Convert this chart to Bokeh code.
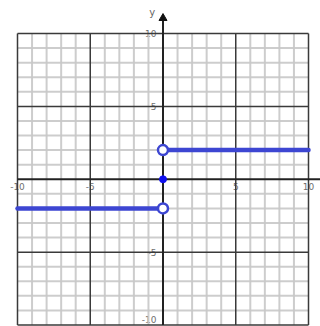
from bokeh.plotting import figure
from bokeh.embed import file_html
from bokeh.resources import INLINE
from bokeh.core.properties import value

# grid values
grid_minor = [-9, -8, -7, -6, -4, -3, -2, -1, 1, 2, 3, 4, 6, 7, 8, 9]
grid_major = [-10, -5, 5, 10]
x_tick_vals = [-10, -5, 5, 10]
x_tick_labels = ["-10", "-5", "5", "10"]
y_tick_vals = [10, 5, -5, -10]
y_tick_labels = ["10", "5", "-5", "-10"]

# step function: y = 2 (x>0), y = -2 (x<0), y = 0 at x = 0
right_x = [0, 10]
right_y = [2, 2]
left_x = [-10, 0]
left_y = [-2, -2]
open_x = [0, 0]
open_y = [2, -2]
closed_x = [0]
closed_y = [0]

LIM = 10
W, H = 320, 326
# pixel mapping
PX0, PX1 = 17.0, 308.0     # x = -10, x = 10
PY0, PY1 = 33.0, 324.5     # y = 10, y = -10
sx = (PX1 - PX0) / 20.0
sy = (PY1 - PY0) / 20.0
xr = (-10 - PX0 / sx, -10 + (W - PX0) / sx)
yr = (10 - (H - PY0) / sy, 10 + PY0 / sy)

p = figure(width=W, height=H, x_range=xr, y_range=yr,
           output_backend="svg", toolbar_location=None, min_border=0)
p.axis.visible = False
p.grid.visible = False
p.outline_line_color = None
p.background_fill_color = "white"

# tick labels (under grid)
p.text(x=x_tick_vals, y=[-0.5] * len(x_tick_vals), text=x_tick_labels,
       text_align="center", text_baseline="middle", text_font=value("DejaVu Sans"),
       text_font_size="9px", text_color="#707070")
p.text(x=[-0.45] * len(y_tick_vals), y=[10, 5, -5, -9.6], text=y_tick_labels,
       text_align="right", text_baseline="middle", text_font=value("DejaVu Sans"),
       text_font_size="9px", text_color="#707070")
p.text(x=[-0.75], y=[11.45], text=["y"], text_align="center", text_baseline="middle",
       text_font=value("DejaVu Sans"), text_font_size="10px", text_color="#666666")

# minor grid
p.segment(x0=grid_minor, y0=[-LIM] * len(grid_minor), x1=grid_minor, y1=[LIM] * len(grid_minor),
          line_color="#c8c8c8", line_width=2, line_alpha=0.9)
p.segment(x0=[-LIM] * len(grid_minor), y0=grid_minor, x1=[LIM] * len(grid_minor), y1=grid_minor,
          line_color="#c8c8c8", line_width=2, line_alpha=0.9)
# major grid
p.segment(x0=grid_major, y0=[-LIM] * len(grid_major), x1=grid_major, y1=[LIM] * len(grid_major),
          line_color="#3a3a3a", line_width=1.5)
p.segment(x0=[-LIM] * len(grid_major), y0=grid_major, x1=[LIM] * len(grid_major), y1=grid_major,
          line_color="#3a3a3a", line_width=1.5)
# axes
p.segment(x0=[-LIM], y0=[0], x1=[10.9], y1=[0], line_color="#222222", line_width=2)
p.segment(x0=[0], y0=[-LIM], x1=[0], y1=[11.0], line_color="#222222", line_width=2)
p.scatter(x=[0], y=[11.05], marker="triangle", size=8, fill_color="#111111", line_color="#111111")

# function
p.line(x=right_x, y=right_y, line_color="#3d46d2", line_width=4.5, line_cap="round")
p.line(x=left_x, y=left_y, line_color="#3d46d2", line_width=4.5, line_cap="round")
p.scatter(x=open_x, y=open_y, size=10, fill_color="white", line_color="#3d46d2", line_width=2.5)
p.scatter(x=closed_x, y=closed_y, size=7, fill_color="#1010f0", line_color="#1010f0")

open("out.html", "w").write(file_html(p, INLINE))
